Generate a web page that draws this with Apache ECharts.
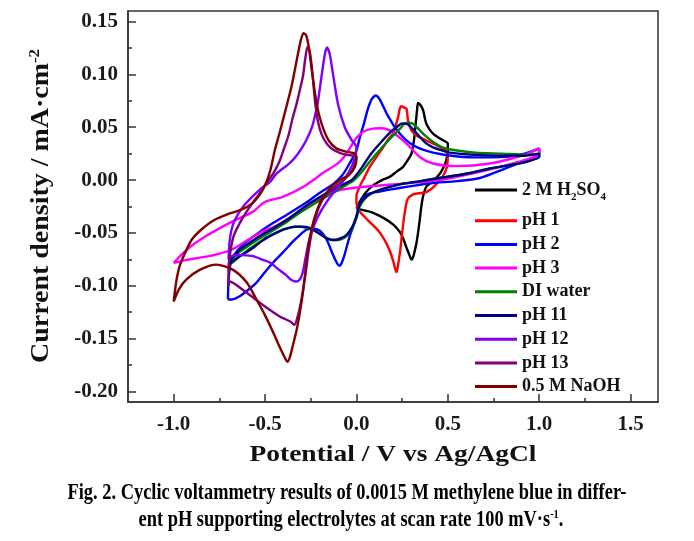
<!DOCTYPE html>
<html><head><meta charset="utf-8">
<script src="https://cdn.jsdelivr.net/npm/echarts@6/dist/echarts.min.js"></script>
<style>html,body{margin:0;padding:0;background:#fff}#c{width:694px;height:541px}</style>
</head><body><div id="c"></div>
<script>
// ---------- data ----------
const seriesNames = ['2 M H2SO4', 'pH 1', 'pH 2', 'pH 3', 'DI water', 'pH 11', 'pH 12', 'pH 13', '0.5 M NaOH'];
const seriesColors = ['#000000', '#ff0000', '#0000ff', '#ff00ff', '#008000', '#000080', '#8000ff', '#800080', '#800000'];
const xMajorTicks = [-1.0, -0.5, 0.0, 0.5, 1.0, 1.5];
const xMinorTicks = [-0.75, -0.25, 0.25, 0.75, 1.25];
const yMajorTicks = [-0.20, -0.15, -0.10, -0.05, 0.00, 0.05, 0.10, 0.15];
const yMinorTicks = [-0.175, -0.125, -0.075, -0.025, 0.025, 0.075, 0.125];
const xRange = [-1.25, 1.65];
const yRange = [-0.21, 0.16];

const h2so4 = [[0.0,-0.027],[0.02,-0.020],[0.05,-0.012],[0.091,-0.005],[0.14,0.0],[0.182,0.003],[0.22,0.008],[0.255,0.0125],[0.285,0.020],[0.301,0.025],[0.315,0.038],[0.325,0.055],[0.332,0.067],[0.337,0.073],[0.35,0.071],[0.365,0.066],[0.375,0.058],[0.383,0.053],[0.40,0.048],[0.419,0.044],[0.45,0.040],[0.474,0.0377],[0.50,0.0346],
  [0.50,0.028],[0.49,0.018],[0.47,0.010],[0.456,0.006],[0.42,-0.001],[0.383,-0.006],[0.365,-0.015],[0.355,-0.025],[0.346,-0.038],[0.337,-0.050],[0.328,-0.060],[0.319,-0.067],[0.31,-0.073],[0.301,-0.0753],[0.29,-0.071],[0.274,-0.064],[0.255,-0.055],[0.237,-0.049],[0.2,-0.042],[0.15,-0.036],[0.091,-0.031],[0.05,-0.029],[0.0,-0.027]];
const ph1 = [[0.0,-0.022],[0.0,-0.015],[0.018,-0.006],[0.045,0.003],[0.073,0.0125],[0.11,0.022],[0.146,0.031],[0.175,0.039],[0.2,0.044],[0.215,0.052],[0.228,0.0596],[0.237,0.0675],[0.246,0.070],[0.258,0.069],[0.274,0.0675],[0.282,0.0565],[0.301,0.047],[0.33,0.042],[0.365,0.039],[0.40,0.036],[0.438,0.033],[0.47,0.030],[0.493,0.028],
  [0.50,0.022],[0.495,0.0125],[0.48,0.006],[0.456,0.0],[0.42,-0.007],[0.383,-0.0115],[0.34,-0.0125],[0.31,-0.0135],[0.28,-0.018],[0.264,-0.031],[0.25,-0.050],[0.24,-0.066],[0.23,-0.078],[0.222,-0.086],[0.219,-0.087],[0.212,-0.084],[0.20,-0.076],[0.18,-0.066],[0.155,-0.057],[0.12,-0.048],[0.08,-0.041],[0.04,-0.034],[0.01,-0.028],[0.0,-0.022]];
const ph2 = [[-0.703,-0.113],[-0.70,-0.095],[-0.69,-0.080],[-0.67,-0.071],[-0.62,-0.061],[-0.529,-0.049],[-0.45,-0.040],[-0.383,-0.033],[-0.30,-0.024],[-0.256,-0.019],[-0.20,-0.012],[-0.128,-0.004],[-0.08,0.004],[-0.04,0.015],[0.0,0.028],[0.018,0.040],[0.04,0.053],[0.064,0.068],[0.085,0.077],[0.106,0.080],[0.125,0.077],[0.146,0.070],[0.165,0.063],[0.182,0.058],[0.21,0.050],[0.237,0.044],[0.27,0.038],[0.31,0.033],[0.36,0.029],[0.419,0.026],[0.52,0.023],[0.638,0.0215],[0.821,0.022],[0.92,0.025],[1.0,0.030],
  [1.0,0.025],[0.9,0.017],[0.8,0.010],[0.675,0.002],[0.55,-0.001],[0.401,-0.003],[0.29,-0.006],[0.182,-0.009],[0.12,-0.011],[0.073,-0.0125],[0.04,-0.016],[0.018,-0.022],[0.0,-0.035],[-0.02,-0.045],[-0.037,-0.053],[-0.064,-0.070],[-0.08,-0.078],[-0.091,-0.081],[-0.105,-0.079],[-0.13,-0.070],[-0.164,-0.056],[-0.20,-0.048],[-0.24,-0.046],[-0.274,-0.047],[-0.31,-0.052],[-0.347,-0.058],[-0.40,-0.068],[-0.456,-0.078],[-0.50,-0.087],[-0.547,-0.097],[-0.60,-0.105],[-0.639,-0.110],[-0.68,-0.113],[-0.703,-0.113]];
const ph3 = [[-1.0,-0.0784],[-0.93,-0.066],[-0.83,-0.0537],[-0.683,-0.0395],[-0.568,-0.0301],[-0.502,-0.0207],[-0.403,-0.016],[-0.283,-0.0056],[-0.184,0.0066],[-0.1,0.016],[-0.053,0.0254],[0.0,0.040],[0.04,0.046],[0.091,0.0487],[0.14,0.049],[0.182,0.0471],[0.23,0.041],[0.274,0.0346],[0.346,0.0219],[0.419,0.0157],[0.547,0.0132],[0.73,0.0157],[0.912,0.0235],[1.0,0.0298],
  [1.0,0.0251],[0.821,0.0141],[0.638,0.0063],[0.456,0.0],[0.274,-0.0031],[0.091,-0.0056],[-0.091,-0.0094],[-0.18,-0.015],[-0.274,-0.0251],[-0.36,-0.035],[-0.447,-0.044],[-0.518,-0.049],[-0.593,-0.0565],[-0.684,-0.0659],[-0.78,-0.071],[-0.867,-0.0737],[-0.94,-0.076],[-1.0,-0.0784]];
const diWater = [[-0.70,-0.081],[-0.684,-0.076],[-0.639,-0.068],[-0.59,-0.062],[-0.529,-0.055],[-0.45,-0.047],[-0.383,-0.040],[-0.32,-0.032],[-0.256,-0.025],[-0.19,-0.018],[-0.128,-0.012],[-0.07,-0.006],[-0.02,-0.001],[0.03,0.008],[0.08,0.019],[0.146,0.032],[0.2,0.042],[0.24,0.049],[0.27,0.054],[0.3,0.054],[0.33,0.050],[0.37,0.043],[0.42,0.036],[0.47,0.031],[0.55,0.028],[0.65,0.026],[0.8,0.025],[0.92,0.024],[1.0,0.025],
  [1.0,0.022],[0.9,0.016],[0.73,0.011],[0.6,0.006],[0.456,0.002],[0.35,-0.001],[0.237,-0.004],[0.15,-0.008],[0.089,-0.012],[0.05,-0.017],[0.018,-0.025],[0.0,-0.036],[-0.025,-0.046],[-0.055,-0.053],[-0.085,-0.056],[-0.12,-0.057],[-0.15,-0.056],[-0.18,-0.053],[-0.21,-0.050],[-0.24,-0.047],[-0.28,-0.045],[-0.32,-0.044],[-0.36,-0.045],[-0.40,-0.047],[-0.45,-0.051],[-0.50,-0.055],[-0.55,-0.061],[-0.6,-0.067],[-0.65,-0.074],[-0.70,-0.081]];
const ph11 = [[-0.70,-0.080],[-0.69,-0.077],[-0.684,-0.074],[-0.66,-0.070],[-0.639,-0.066],[-0.59,-0.060],[-0.529,-0.053],[-0.45,-0.045],[-0.383,-0.038],[-0.32,-0.030],[-0.256,-0.022],[-0.19,-0.015],[-0.128,-0.009],[-0.07,-0.004],[-0.02,0.001],[0.03,0.012],[0.08,0.025],[0.146,0.038],[0.19,0.046],[0.219,0.050],[0.25,0.0535],[0.28,0.053],[0.31,0.048],[0.346,0.041],[0.38,0.035],[0.419,0.031],[0.47,0.028],[0.511,0.026],[0.638,0.024],[0.821,0.023],[0.92,0.023],[1.0,0.025],
  [1.0,0.022],[0.9,0.016],[0.73,0.011],[0.6,0.006],[0.456,0.002],[0.35,-0.001],[0.237,-0.004],[0.15,-0.008],[0.089,-0.012],[0.05,-0.016],[0.018,-0.023],[0.0,-0.034],[-0.025,-0.045],[-0.055,-0.052],[-0.085,-0.055],[-0.11,-0.0565],[-0.135,-0.0565],[-0.164,-0.055],[-0.2,-0.051],[-0.228,-0.048],[-0.26,-0.045],[-0.292,-0.044],[-0.34,-0.044],[-0.387,-0.046],[-0.43,-0.049],[-0.475,-0.053],[-0.52,-0.058],[-0.557,-0.063],[-0.6,-0.068],[-0.64,-0.072],[-0.67,-0.076],[-0.70,-0.080]];
const ph12 = [[-0.70,-0.075],[-0.695,-0.060],[-0.685,-0.048],[-0.666,-0.038],[-0.62,-0.025],[-0.529,-0.009],[-0.474,-0.002],[-0.438,0.006],[-0.365,0.016],[-0.32,0.025],[-0.283,0.035],[-0.255,0.045],[-0.238,0.053],[-0.22,0.066],[-0.21,0.075],[-0.192,0.097],[-0.173,0.119],[-0.161,0.1255],[-0.146,0.119],[-0.128,0.100],[-0.101,0.072],[-0.064,0.050],[-0.027,0.038],[0.0,0.031],
  [-0.01,0.020],[-0.04,0.008],[-0.09,-0.005],[-0.14,-0.015],[-0.19,-0.028],[-0.23,-0.042],[-0.26,-0.058],[-0.28,-0.075],[-0.295,-0.088],[-0.31,-0.094],[-0.33,-0.096],[-0.36,-0.094],[-0.385,-0.090],[-0.43,-0.084],[-0.474,-0.078],[-0.52,-0.075],[-0.566,-0.072],[-0.639,-0.071],[-0.684,-0.072],[-0.70,-0.075]];
const ph13 = [[-0.70,-0.100],[-0.70,-0.085],[-0.69,-0.068],[-0.67,-0.052],[-0.62,-0.035],[-0.57,-0.022],[-0.529,-0.0125],[-0.49,-0.002],[-0.456,0.006],[-0.42,0.018],[-0.40,0.028],[-0.374,0.041],[-0.35,0.058],[-0.328,0.072],[-0.31,0.085],[-0.292,0.099],[-0.28,0.115],[-0.268,0.126],[-0.256,0.122],[-0.245,0.108],[-0.235,0.090],[-0.225,0.072],[-0.21,0.055],[-0.19,0.043],[-0.16,0.034],[-0.12,0.028],[-0.06,0.024],[0.0,0.022],
  [-0.02,0.010],[-0.07,0.0],[-0.13,-0.008],[-0.18,-0.017],[-0.215,-0.030],[-0.24,-0.045],[-0.26,-0.065],[-0.28,-0.090],[-0.30,-0.112],[-0.32,-0.128],[-0.34,-0.137],[-0.36,-0.134],[-0.42,-0.129],[-0.529,-0.116],[-0.62,-0.104],[-0.693,-0.096],[-0.70,-0.100]];
const naoh = [[-1.0,-0.115],[-0.985,-0.095],[-0.965,-0.080],[-0.93,-0.066],[-0.90,-0.056],[-0.85,-0.047],[-0.78,-0.038],[-0.70,-0.032],[-0.63,-0.028],[-0.57,-0.022],[-0.53,-0.014],[-0.50,-0.005],[-0.47,0.010],[-0.447,0.028],[-0.42,0.045],[-0.39,0.065],[-0.356,0.088],[-0.325,0.115],[-0.305,0.132],[-0.29,0.139],[-0.275,0.137],[-0.26,0.125],[-0.245,0.105],[-0.225,0.080],[-0.205,0.062],[-0.18,0.048],[-0.15,0.037],[-0.11,0.030],[-0.06,0.027],[-0.01,0.025],
  [0.0,0.020],[-0.01,0.012],[-0.04,0.005],[-0.091,0.0],[-0.146,-0.008],[-0.192,-0.019],[-0.228,-0.035],[-0.25,-0.050],[-0.265,-0.065],[-0.28,-0.088],[-0.30,-0.115],[-0.325,-0.140],[-0.35,-0.158],[-0.365,-0.168],[-0.378,-0.172],[-0.395,-0.167],[-0.42,-0.158],[-0.456,-0.144],[-0.50,-0.128],[-0.547,-0.113],[-0.60,-0.097],[-0.675,-0.085],[-0.766,-0.080],[-0.858,-0.085],[-0.93,-0.094],[-0.97,-0.103],[-1.0,-0.115]];
const seriesData = [h2so4, ph1, ph2, ph3, diWater, ph11, ph12, ph13, naoh];

// ---------- layout ----------
const FF = '"Liberation Serif", "Times New Roman", serif';
const grid = {left: 128, right: 36, top: 11, bottom: 139};

function textWidth(txt, size) {
  const c = document.createElement('canvas').getContext('2d');
  c.font = 'bold ' + size + 'px ' + FF;
  return c.measureText(txt).width;
}

const chart = echarts.init(document.getElementById('c'), null, {renderer: 'canvas'});

const axisCommon = (pos, minmax, ticks, len, showLine, showLabel, fmt, margin) => ({
  type: 'value', min: minmax[0], max: minmax[1], position: pos,
  axisLine: {show: showLine, onZero: false, lineStyle: {color: '#333', width: 1.5}},
  axisTick: {show: true, inside: true, length: len, customValues: ticks, lineStyle: {color: '#333', width: 1.5}},
  axisLabel: {show: showLabel, customValues: ticks, formatter: fmt, margin: margin,
    fontFamily: FF, fontWeight: 'bold', fontSize: 21, color: '#1a1a1a'},
  splitLine: {show: false}
});

const series = seriesNames.map((n, i) => ({
  name: n, type: 'line', data: seriesData[i], xAxisIndex: 0, yAxisIndex: 0,
  symbol: 'none', smooth: 0.25, color: seriesColors[i],
  lineStyle: {width: 2.4, color: seriesColors[i]}, z: 2 + i
}));

// caption / axis titles
const cap1 = 'Fig. 2. Cyclic voltammetry results of 0.0015 M methylene blue in differ-';
const cap2a = 'ent pH supporting electrolytes at scan rate 100 mV·s';
const capSize = 23;
const capScale = 559 / textWidth(cap1, capSize);
const xName = 'Potential / V vs Ag/AgCl';
const xNameScale = 287 / textWidth(xName, 24);
const yName = 'Current density / mA·cm';
const yNameScale = 300 / textWidth(yName, 25);

chart.setOption({
  animation: false,
  backgroundColor: '#fff',
  grid: Object.assign({show: true, borderColor: '#333', borderWidth: 1.5, containLabel: false}, grid),
  xAxis: [
    axisCommon('bottom', xRange, xMajorTicks, 8, true, true, v => v.toFixed(1), 12),
    axisCommon('bottom', xRange, xMinorTicks, 4, false, false, v => '', 12)
  ],
  yAxis: [
    axisCommon('left', yRange, yMajorTicks, 8, true, true, v => v.toFixed(2), 10),
    axisCommon('left', yRange, yMinorTicks, 4, false, false, v => '', 10)
  ],
  legend: {
    orient: 'vertical', left: 475, top: 174, itemWidth: 42, itemHeight: 14, itemGap: 5.7,
    padding: 0,
    data: seriesNames.map((n, i) => ({name: n, icon: 'path://M0,0L42,0L42,3L0,3Z', itemStyle: {color: seriesColors[i]}})),
    formatter: n => n === '2 M H2SO4' ? '{b|2 M H}{s|2}{b|SO}{s|4}' : n,
    textStyle: {fontFamily: FF, fontWeight: 'bold', fontSize: 18, color: '#111', lineHeight: 18,
      rich: {
        b: {fontFamily: FF, fontWeight: 'bold', fontSize: 18, color: '#111', lineHeight: 32},
        s: {fontFamily: FF, fontWeight: 'bold', fontSize: 11, color: '#111', lineHeight: 12, padding: [14, 0, 0, 0]}
      }}
  },
  graphic: [
    {type: 'text', x: 42, y: 206, rotation: Math.PI / 2, scaleX: yNameScale, scaleY: 1,
      style: {text: '{a|' + yName + '}{s|-2}', align: 'center', verticalAlign: 'middle',
        rich: {a: {fontFamily: FF, fontWeight: 'bold', fontSize: 25, fill: '#111', lineHeight: 28},
               s: {fontFamily: FF, fontWeight: 'bold', fontSize: 15, fill: '#111', lineHeight: 14, verticalAlign: 'top'}}}},
    {type: 'text', x: 393, y: 455, scaleX: xNameScale,
      style: {text: xName, align: 'center', verticalAlign: 'middle', font: 'bold 24px ' + FF, fill: '#111'}},
    {type: 'text', x: 347, y: 493, scaleX: capScale,
      style: {text: cap1, align: 'center', verticalAlign: 'middle', font: 'bold ' + capSize + 'px ' + FF, fill: '#000'}},
    {type: 'text', x: 351, y: 520, scaleX: capScale,
      style: {text: '{a|' + cap2a + '}{s|-1}{a|.}', align: 'center', verticalAlign: 'middle',
        rich: {a: {fontFamily: FF, fontWeight: 'bold', fontSize: capSize, fill: '#000', lineHeight: 24},
               s: {fontFamily: FF, fontWeight: 'bold', fontSize: 13, fill: '#000', lineHeight: 12, verticalAlign: 'top'}}}}
  ],
  series: series
});
</script>
</body></html>
